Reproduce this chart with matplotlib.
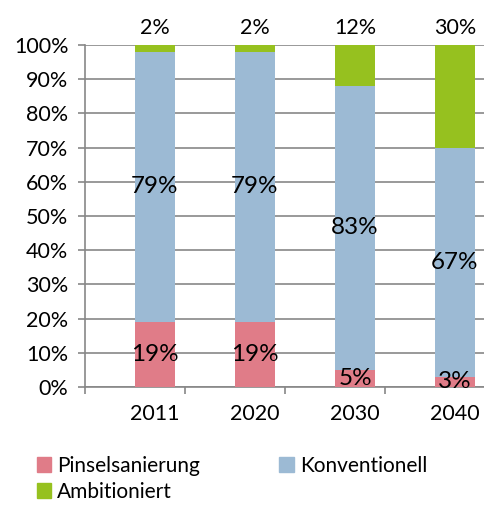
import matplotlib.pyplot as plt
from matplotlib.patches import Patch

plt.rcParams['font.family'] = ['Lato', 'DejaVu Sans']

jahre = ['2011', '2020', '2030', '2040']
pinsel = [19, 19, 5, 3]
konventionell = [79, 79, 83, 67]
ambitioniert = [2, 2, 12, 30]

c_pinsel = '#E07C88'
c_konv = '#9CBAD4'
c_amb = '#96C11F'

fig = plt.figure(figsize=(4.85, 5.05), dpi=100)
ax = fig.add_axes([85 / 485, (505 - 387) / 505, 400 / 485, 342 / 505])

x = range(len(jahre))
w = 0.4
ax.bar(x, pinsel, w, color=c_pinsel, zorder=3)
ax.bar(x, konventionell, w, bottom=pinsel, color=c_konv, zorder=3)
bot3 = [p + k for p, k in zip(pinsel, konventionell)]
ax.bar(x, ambitioniert, w, bottom=bot3, color=c_amb, zorder=3)

for i in x:
    ax.text(i, pinsel[i] / 2, f'{pinsel[i]}%', ha='center', va='center',
            fontsize=17.5, zorder=4)
    ax.text(i, pinsel[i] + konventionell[i] / 2, f'{konventionell[i]}%',
            ha='center', va='center', fontsize=17.5, zorder=4)
    ax.annotate(f'{ambitioniert[i]}%', (i, 100), xytext=(0, 5),
                textcoords='offset points', ha='center', va='bottom',
                fontsize=15.5, annotation_clip=False)

ax.set_xlim(-0.7, 3.3)
ax.set_ylim(0, 100)
ax.set_yticks(range(0, 101, 10))
ax.set_yticklabels([f'{v}%' for v in range(0, 101, 10)], fontsize=15.5)
ax.set_xticks(list(x))
ax.set_xticklabels(jahre, fontsize=15.5)
ax.set_xticks([-0.7, 0.3, 1.3, 2.3, 3.3], minor=True)
ax.tick_params(axis='x', which='major', length=0, pad=12)
ax.tick_params(axis='x', which='minor', length=5, color='#878787', width=1.2)
ax.tick_params(axis='y', length=5, color='#878787', width=1.2, pad=7)
ax.yaxis.grid(True, color='#878787', linewidth=1.2, zorder=0)
for s in ['top', 'right']:
    ax.spines[s].set_visible(False)
for s in ['left', 'bottom']:
    ax.spines[s].set_color('#878787')
    ax.spines[s].set_linewidth(1.2)

handles = [Patch(color=c_pinsel), Patch(color=c_amb), Patch(color=c_konv)]
labels = ['Pinselsanierung', 'Ambitioniert', 'Konventionell']
fig.legend(handles, labels, ncol=2, loc='upper left',
           bbox_to_anchor=(22 / 485, 1 - 441 / 505), frameon=False,
           fontsize=15, handlelength=0.7, handleheight=0.7,
           handletextpad=0.3, columnspacing=3.8, labelspacing=0.3,
           borderpad=0.2)

fig.savefig('out.png', dpi=100)
